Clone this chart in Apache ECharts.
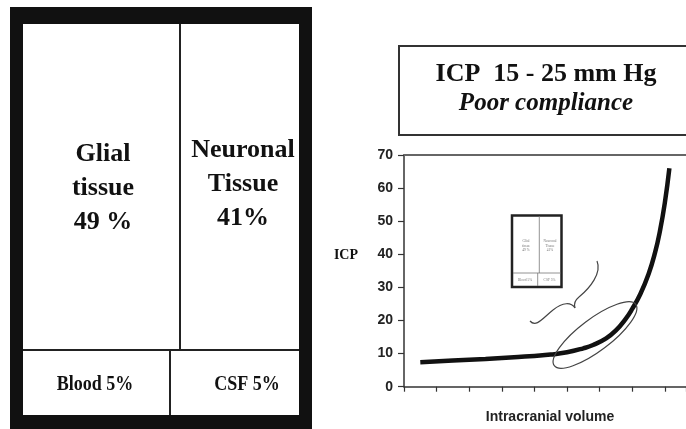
<!DOCTYPE html>
<html>
<head>
<meta charset="utf-8">
<script src="https://cdn.jsdelivr.net/npm/echarts@6/dist/echarts.min.js"></script>
<style>html,body{margin:0;padding:0;background:#fff;}#chart{width:686px;height:429px;}</style>
</head>
<body>
<div id="chart"></div>
<script>
// Brain composition (left panel)
const tissueNames = ['Glial\ntissue', 'Neuronal\nTissue', 'Blood', 'CSF'];
const tissuePctLabels = ['49 %', '41%', '5%', '5%'];
// Pressure-volume curve (right panel)
const volume = [0.5, 1.5, 2.5, 3.5, 4.0, 4.5, 5.0, 5.5, 5.8, 6.2, 6.5, 6.8, 7.0, 7.25, 7.5, 7.7, 7.85, 8.0, 8.14];
const icp    = [7.4, 7.9, 8.4, 9.0, 9.3, 9.7, 10.4, 11.6, 12.6, 14.6, 17.0, 20.5, 23.5, 28.0, 34.0, 40.5, 47.0, 55.5, 66.0];
const yTicks = [0, 10, 20, 30, 40, 50, 60, 70];
const xMax = 8.65;
const titleLines = ['ICP  15 - 25 mm Hg', 'Poor compliance'];
const yAxisName = 'ICP';
const xAxisName = 'Intracranial volume';

const chart = echarts.init(document.getElementById('chart'), null, {renderer: 'canvas'});
const serif = '"Liberation Serif", "Times New Roman", serif';
const sans = '"Liberation Sans", Arial, sans-serif';

function bigText(txt, x, y) {
  return {type: 'text', x: x, y: y, z: 10,
    style: {text: txt, fontFamily: serif, fontWeight: 'bold', fontSize: 26, lineHeight: 34,
      fill: '#111', align: 'center', verticalAlign: 'middle'}};
}
function smallText(txt, x, y) {
  return {type: 'text', x: x, y: y, z: 10, scaleX: 0.9,
    style: {text: txt, fontFamily: serif, fontWeight: 'bold', fontSize: 20,
      fill: '#111', align: 'center', verticalAlign: 'middle'}};
}
function tinyText(txt, x, y) {
  return {type: 'text', x: x, y: y, z: 12,
    style: {text: txt, fontFamily: serif, fontSize: 3.5, lineHeight: 4.5,
      fill: '#777', align: 'center', verticalAlign: 'middle'}};
}
function bez(p) {
  return {type: 'bezierCurve', z: 12,
    shape: {x1: p[0], y1: p[1], cpx1: p[2], cpy1: p[3], cpx2: p[4], cpy2: p[5], x2: p[6], y2: p[7]},
    style: {stroke: '#444', lineWidth: 1.2, fill: null}};
}
function ln(x1, y1, x2, y2, w, c) {
  return {type: 'line', z: 11, shape: {x1: x1, y1: y1, x2: x2, y2: y2}, style: {stroke: c, lineWidth: w}};
}

const graphics = [
  // left panel frame
  {type: 'rect', z: 5, shape: {x: 10, y: 7, width: 302, height: 440}, style: {fill: '#111'}},
  {type: 'rect', z: 6, shape: {x: 23, y: 24, width: 276, height: 391}, style: {fill: '#fff'}},
  ln(180, 24, 180, 350, 2, '#222'),
  ln(23, 350, 299, 350, 2, '#222'),
  ln(170, 350, 170, 415, 2, '#222'),
  bigText(tissueNames[0] + '\n' + tissuePctLabels[0], 103, 188),
  bigText(tissueNames[1] + '\n' + tissuePctLabels[1], 243, 184),
  smallText(tissueNames[2] + ' ' + tissuePctLabels[2], 95, 385),
  smallText(tissueNames[3] + ' ' + tissuePctLabels[3], 247, 385),
  // title box
  {type: 'rect', z: 1, shape: {x: 399, y: 46, width: 310, height: 89}, style: {fill: '#fff', stroke: '#333', lineWidth: 2}},
  // y axis name
  {type: 'text', x: 358, y: 255, z: 10,
    style: {text: yAxisName, fontFamily: serif, fontWeight: 'bold', fontSize: 14, fill: '#111', align: 'right', verticalAlign: 'middle'}},
  // mini thumbnail
  {type: 'rect', z: 10, shape: {x: 512, y: 215.5, width: 49.5, height: 71.5}, style: {fill: '#fff', stroke: '#222', lineWidth: 2.5}},
  ln(539.3, 216, 539.3, 273, 0.8, '#777'),
  ln(513, 273, 560.5, 273, 0.8, '#777'),
  ln(537.7, 273, 537.7, 286, 0.8, '#777'),
  tinyText(tissueNames[0] + '\n' + tissuePctLabels[0], 526, 246),
  tinyText(tissueNames[1] + '\n' + tissuePctLabels[1], 550, 246),
  tinyText(tissueNames[2] + ' ' + tissuePctLabels[2], 525, 280),
  tinyText(tissueNames[3] + ' ' + tissuePctLabels[3], 549.5, 280),
  // brace
  bez([597, 261, 602, 273, 590, 288, 579, 297]),
  bez([579, 297, 574, 301, 574, 305, 575, 308]),
  bez([575, 308, 571, 302, 563, 302, 553, 310]),
  bez([553, 310, 543, 318, 536, 328, 530, 321]),
  // ellipse
  {type: 'ellipse', z: 12, x: 595, y: 335, rotation: 37 * Math.PI / 180,
    shape: {cx: 0, cy: 0, rx: 51, ry: 16}, style: {fill: null, stroke: '#444', lineWidth: 1.2}}
];

const option = {
  backgroundColor: '#fff',
  animation: false,
  title: {
    text: titleLines[0], subtext: titleLines[1],
    left: 546, top: 60, textAlign: 'center', itemGap: 0, padding: 0, z: 20,
    textStyle: {fontFamily: serif, fontWeight: 'bold', fontSize: 26, lineHeight: 29, color: '#111'},
    subtextStyle: {fontFamily: serif, fontWeight: 'bold', fontStyle: 'italic', fontSize: 25, lineHeight: 29, color: '#111'}
  },
  grid: {left: 404, top: 155, right: 0, height: 231.7, containLabel: false},
  xAxis: [{
    type: 'value', min: 0, max: xMax, interval: 1, position: 'bottom',
    name: xAxisName, nameLocation: 'middle', nameGap: 23,
    nameTextStyle: {fontFamily: sans, fontWeight: 'bold', fontSize: 14, color: '#222', padding: [0, 0, 0, 10]},
    axisLine: {show: true, lineStyle: {color: '#333', width: 1.5}},
    axisTick: {show: true, length: 5, lineStyle: {color: '#333', width: 1.2}},
    axisLabel: {show: false}, splitLine: {show: false}
  }, {
    type: 'value', min: 0, max: xMax, position: 'top',
    axisLine: {show: true, lineStyle: {color: '#666', width: 2}},
    axisTick: {show: false}, axisLabel: {show: false}, splitLine: {show: false}
  }],
  yAxis: {
    type: 'value', min: yTicks[0], max: yTicks[yTicks.length - 1], interval: yTicks[1] - yTicks[0],
    axisLine: {show: true, lineStyle: {color: '#333', width: 1.5}},
    axisTick: {show: true, length: 6, lineStyle: {color: '#333', width: 1.2}},
    axisLabel: {margin: 11, fontFamily: sans, fontWeight: 'bold', fontSize: 14, color: '#222'},
    splitLine: {show: false}
  },
  series: [{
    type: 'line', xAxisIndex: 0,
    data: volume.map((v, i) => [v, icp[i]]),
    smooth: 0.5, showSymbol: false, symbol: 'none',
    lineStyle: {color: '#111', width: 4.5}, z: 3
  }],
  graphic: graphics
};
chart.setOption(option);
</script>
</body>
</html>
